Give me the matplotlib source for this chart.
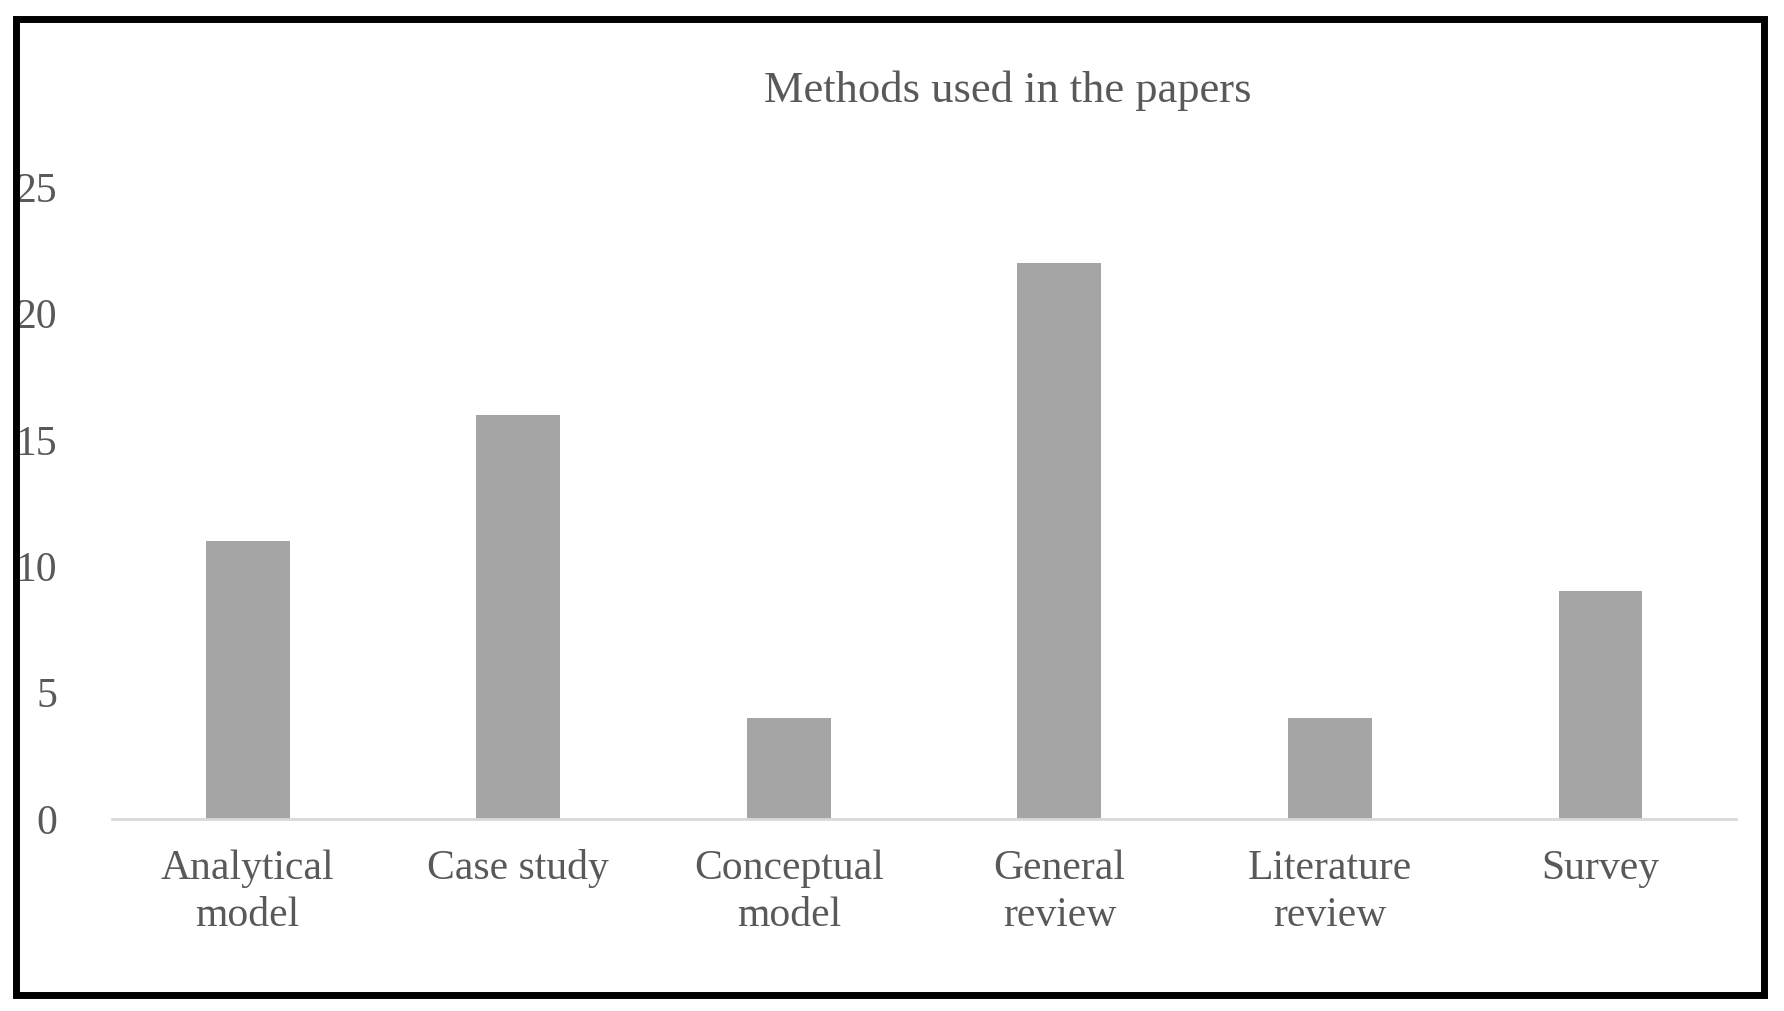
import matplotlib.pyplot as plt
from matplotlib.patches import Rectangle

categories = ["Analytical\nmodel", "Case study", "Conceptual\nmodel", "General\nreview", "Literature\nreview", "Survey"]
counts = [11, 16, 4, 22, 4, 9]
yticks = [0, 5, 10, 15, 20, 25]

plt.rcParams['font.family'] = ['Liberation Serif', 'DejaVu Serif']
txt = '#595959'

fig = plt.figure(figsize=(17.84, 10.11), dpi=100)
ax = fig.add_axes([0.063, 0.19, 0.91, 0.625])

ax.bar(range(len(categories)), counts, width=0.31, color='#a5a5a5')
ax.set_xlim(-0.5, len(categories) - 0.5)
ax.set_ylim(0, 25)
ax.set_yticks(yticks)
ax.set_xticks(range(len(categories)))
ax.set_xticklabels(categories, fontsize=30, color=txt, linespacing=1.3)
ax.tick_params(axis='y', labelsize=30, labelcolor=txt, length=0, pad=40)
ax.tick_params(axis='x', length=0, pad=22)
for s in ['top', 'right', 'left']:
    ax.spines[s].set_visible(False)
ax.spines['bottom'].set_color('#d9d9d9')
ax.spines['bottom'].set_linewidth(2)

fig.text(0.565, 0.91, "Methods used in the papers", fontsize=32, color=txt, ha='center', va='center')

fig.patches.append(Rectangle((0.009, 0.016), 0.98, 0.965, transform=fig.transFigure,
                             fill=False, edgecolor='black', linewidth=5))

fig.savefig("out.png", dpi=100)
